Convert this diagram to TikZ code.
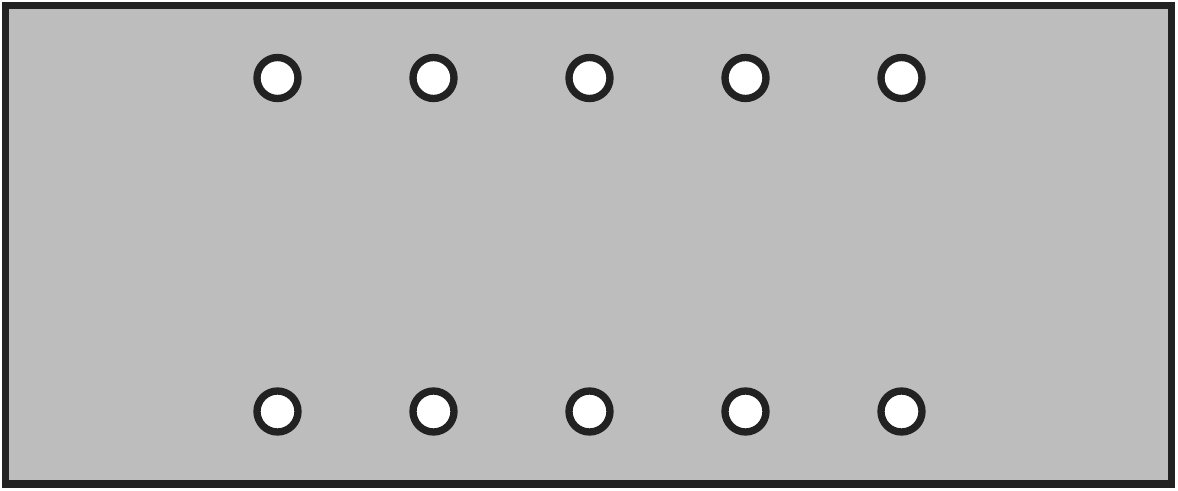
\documentclass[tikz,border=0pt]{standalone}
\usepackage{amsmath}
\usepackage{tikz}

\begin{document}
\begin{tikzpicture}[x=0.75pt,y=0.75pt,yscale=-1,xscale=1]
                \useasboundingbox (0,0) rectangle (1178,491); %set diagram left start at 0, and has height of 491

                %Shape: Rectangle [id:plate]
                \draw  [color={rgb, 255:red, 34; green, 34; blue, 34 }  ,fill={rgb, 255:red, 189; green, 189; blue, 189 }  ,fill opacity=1 ,line width=5.5 ] (5.5,5.5) -- (1171.5,5.5) -- (1171.5,484) -- (5.5,484) -- cycle ;

                %Shape: Circle [id:hole_t1]
                \draw  [color={rgb, 255:red, 34; green, 34; blue, 34 }  ,fill={rgb, 255:red, 255; green, 255; blue, 255 }  ,fill opacity=1 ,line width=5.5 ] (277.5,78) circle [x radius= 20.5, y radius= 20.5]   ;
                %Shape: Circle [id:hole_t2]
                \draw  [color={rgb, 255:red, 34; green, 34; blue, 34 }  ,fill={rgb, 255:red, 255; green, 255; blue, 255 }  ,fill opacity=1 ,line width=5.5 ] (433.5,78) circle [x radius= 20.5, y radius= 20.5]   ;
                %Shape: Circle [id:hole_t3]
                \draw  [color={rgb, 255:red, 34; green, 34; blue, 34 }  ,fill={rgb, 255:red, 255; green, 255; blue, 255 }  ,fill opacity=1 ,line width=5.5 ] (589.5,78) circle [x radius= 20.5, y radius= 20.5]   ;
                %Shape: Circle [id:hole_t4]
                \draw  [color={rgb, 255:red, 34; green, 34; blue, 34 }  ,fill={rgb, 255:red, 255; green, 255; blue, 255 }  ,fill opacity=1 ,line width=5.5 ] (745.5,78) circle [x radius= 20.5, y radius= 20.5]   ;
                %Shape: Circle [id:hole_t5]
                \draw  [color={rgb, 255:red, 34; green, 34; blue, 34 }  ,fill={rgb, 255:red, 255; green, 255; blue, 255 }  ,fill opacity=1 ,line width=5.5 ] (901.5,78) circle [x radius= 20.5, y radius= 20.5]   ;

                %Shape: Circle [id:hole_b1]
                \draw  [color={rgb, 255:red, 34; green, 34; blue, 34 }  ,fill={rgb, 255:red, 255; green, 255; blue, 255 }  ,fill opacity=1 ,line width=5.5 ] (277.5,411.5) circle [x radius= 20.5, y radius= 20.5]   ;
                %Shape: Circle [id:hole_b2]
                \draw  [color={rgb, 255:red, 34; green, 34; blue, 34 }  ,fill={rgb, 255:red, 255; green, 255; blue, 255 }  ,fill opacity=1 ,line width=5.5 ] (433.5,411.5) circle [x radius= 20.5, y radius= 20.5]   ;
                %Shape: Circle [id:hole_b3]
                \draw  [color={rgb, 255:red, 34; green, 34; blue, 34 }  ,fill={rgb, 255:red, 255; green, 255; blue, 255 }  ,fill opacity=1 ,line width=5.5 ] (589.5,411.5) circle [x radius= 20.5, y radius= 20.5]   ;
                %Shape: Circle [id:hole_b4]
                \draw  [color={rgb, 255:red, 34; green, 34; blue, 34 }  ,fill={rgb, 255:red, 255; green, 255; blue, 255 }  ,fill opacity=1 ,line width=5.5 ] (745.5,411.5) circle [x radius= 20.5, y radius= 20.5]   ;
                %Shape: Circle [id:hole_b5]
                \draw  [color={rgb, 255:red, 34; green, 34; blue, 34 }  ,fill={rgb, 255:red, 255; green, 255; blue, 255 }  ,fill opacity=1 ,line width=5.5 ] (901.5,411.5) circle [x radius= 20.5, y radius= 20.5]   ;

            \end{tikzpicture}
\end{document}
